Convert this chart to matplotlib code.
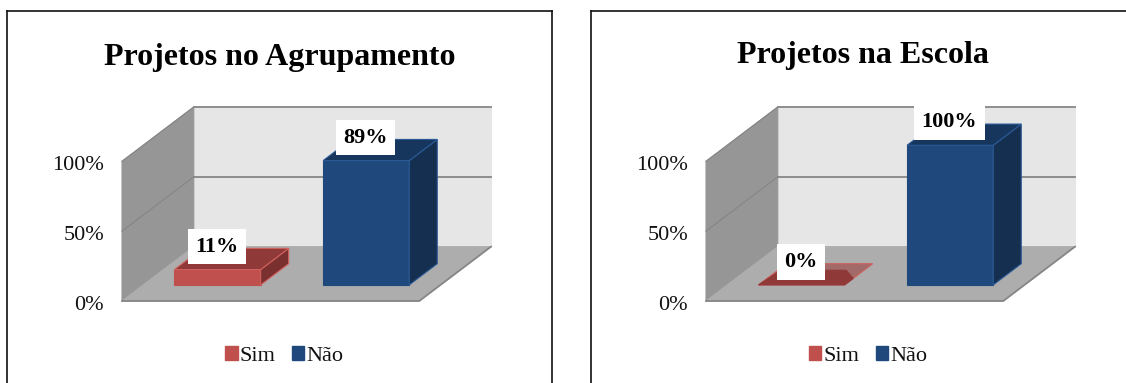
import matplotlib
matplotlib.use("Agg")
import matplotlib.pyplot as plt
from matplotlib.patches import Patch, Polygon
from matplotlib.transforms import ScaledTranslation

plt.rcParams['font.family'] = ['Liberation Serif', 'DejaVu Serif']

# Data
categories = ["Sim", "Não"]
titles = ["Projetos no Agrupamento", "Projetos na Escola"]
agrupamento = [11, 89]
escola = [0, 100]
y_ticks = [0, 50, 100]

W, H = 1126, 383
fig = plt.figure(figsize=(W / 100, H / 100), dpi=100, facecolor="white")

# oblique projection of the depth axis, in category / percent units
DX = 0.483
DY = 38.9
BAR_W = 0.58
D0, D1 = 0.296, 0.686

WALL = "#E6E6E6"
SIDE = "#969696"
FLOOR = "#ADADAD"
GRID = "#868686"
FACES = {
    "Sim": ("#C0504D", "#8F3A38", "#7A302E", "#D0605C"),
    "Não": ("#1F497D", "#17365D", "#152F50", "#2A5A96"),
}


def px_axes(left, top, right, bottom):
    return fig.add_axes([left / W, 1 - bottom / H, (right - left) / W, (bottom - top) / H])


def proj(x, v, d):
    return (x + d * DX, v + d * DY)


def face(ax, pts, color, edge=None, z=2, alpha=None):
    ax.add_patch(Polygon([proj(*p) for p in pts], closed=True, facecolor=color,
                         edgecolor=edge if edge else color, linewidth=0.8,
                         zorder=z, alpha=alpha, clip_on=False))


def draw_bar(ax, i, name, val):
    front, top, side, edge = FACES[name]
    x0 = i + 0.5 - BAR_W / 2
    x1 = x0 + BAR_W
    if val == 0:
        # flat bar, almost see-through top with a darker patch at the front
        face(ax, [(x0, 0, D0), (x1, 0, D0), (x1, 0, D1), (x0, 0, D1)],
             "#A26A69", edge="#D0605C", z=3)
        face(ax, [(x0, 0, D0), (x1, 0, D0), (x1, 0, D0 + 0.12),
                  (x1 - 0.12, 0, D0 + 0.27), (x0 + 0.02, 0, D0 + 0.27)], top, z=3.1)
        return
    face(ax, [(x0, 0, D0), (x1, 0, D0), (x1, val, D0), (x0, val, D0)], front, z=3 + i, edge=front)
    face(ax, [(x1, 0, D0), (x1, 0, D1), (x1, val, D1), (x1, val, D0)], side, z=3 + i, edge=edge)
    face(ax, [(x0, val, D0), (x1, val, D0), (x1, val, D1), (x0, val, D1)], top, z=3 + i, edge=edge)


def draw_panel(frame_box, plot_box, title, title_y, values):
    # outer frame, runs off the bottom and right of the picture
    fr = px_axes(*frame_box)
    fr.set_xticks([])
    fr.set_yticks([])
    for s in fr.spines.values():
        s.set_linewidth(1.2)
        s.set_color("#111111")
    fr.text(0.5, 1 - (title_y - frame_box[1]) / (frame_box[3] - frame_box[1]), title,
            transform=fr.transAxes, ha="center", va="center",
            fontsize=23, fontweight="bold", color="black")

    ax = px_axes(*plot_box)
    ax.set_xlim(0, len(categories) + DX)
    ax.set_ylim(0, 100 + DY)
    ax.patch.set_visible(False)
    for s in ax.spines.values():
        s.set_visible(False)
    ax.set_xticks([])
    ax.set_yticks(y_ticks)
    ax.set_yticklabels([f"{t}%" for t in y_ticks], fontsize=16, color="#111111")
    ax.tick_params(axis="y", length=0, pad=13)
    # nudge the tick labels down a little
    nudge = ScaledTranslation(0, -1.5 / 72, fig.dpi_scale_trans)
    for lab in ax.get_yticklabels():
        lab.set_transform(lab.get_transform() + nudge)

    n = len(categories)
    face(ax, [(0, 0, 1), (n, 0, 1), (n, 100, 1), (0, 100, 1)], WALL, z=1)
    face(ax, [(0, 0, 0), (0, 0, 1), (0, 100, 1), (0, 100, 0)], SIDE, z=1)
    face(ax, [(0, 0, 0), (n, 0, 0), (n, 0, 1), (0, 0, 1)], FLOOR, z=1.5)

    # gridlines: faint on the side wall, stronger on the back wall
    for t in y_ticks[1:]:
        xs, ys = zip(proj(0, t, 0), proj(0, t, 1))
        ax.plot(xs, ys, color="#858585", lw=0.8, zorder=2, clip_on=False)
        xs, ys = zip(proj(0, t, 1), proj(n, t, 1))
        ax.plot(xs, ys, color=GRID, lw=1.3, zorder=2, clip_on=False)
    xs, ys = zip(proj(n, 0, 1), proj(n, 0, 0), proj(0, 0, 0))
    ax.plot(xs, ys, color=GRID, lw=1.3, zorder=2, clip_on=False, solid_joinstyle="miter")

    for i, (name, val) in enumerate(zip(categories, values)):
        draw_bar(ax, i, name, val)

    # data labels sit above the middle of the front face
    for i, val in enumerate(values):
        xy = proj(i + 0.5, val, D0)
        ax.annotate(f"{val}%", xy=xy, xytext=(-0.5, 16.5), textcoords="offset points",
                    ha="center", va="center", fontsize=16, fontweight="bold",
                    color="black", zorder=10,
                    bbox=dict(boxstyle="square,pad=0.34", fc="white", ec="none"))

    handles = [Patch(facecolor=FACES[c][0], edgecolor=FACES[c][0], label=c) for c in categories]
    cx = (frame_box[0] + frame_box[2]) / 2 + 5
    fig.legend(handles=handles, loc="center", bbox_to_anchor=(cx / W, 1 - 356 / H),
               ncol=2, frameon=False, fontsize=16, handlelength=0.55, handleheight=0.55,
               handletextpad=0.1, columnspacing=0.75, borderpad=0, labelcolor="#111111")


draw_panel((7, 11, 552, 395), (122, 107, 491, 301), titles[0], 57, agrupamento)
draw_panel((591, 11, 1135, 395), (706, 107, 1075, 301), titles[1], 55, escola)

fig.savefig("out.png", dpi=100)
